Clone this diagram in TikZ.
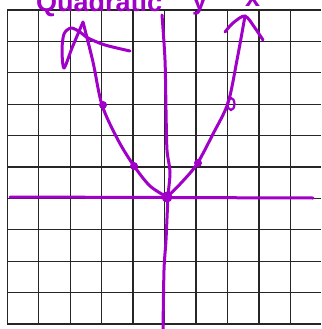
\documentclass[tikz,border=0pt]{standalone}
\usepackage{fontspec}
\setmainfont{Liberation Sans}
\definecolor{pen}{RGB}{160,0,200}
\begin{document}
\begin{tikzpicture}[x=1pt,y=-1pt,
  gridline/.style={line width=1.3pt,black!85},
  penline/.style={pen,line width=3pt,line cap=round,line join=round},
  pendot/.style={fill=pen,draw=none},
  pentext/.style={text=pen,font=\fontsize{27}{30}\selectfont\bfseries,inner sep=0pt,anchor=base west}]
\useasboundingbox (0,0) rectangle (321,329);
\fill[white] (0,0) rectangle (321,329);
% grid
\foreach \i in {0,...,9} \draw[gridline] ({7.3+31.46*\i},10) -- ({7.3+31.46*\i},324);
\foreach \j in {0,...,10} \draw[gridline] (7.3,{10+31.4*\j}) -- (321,{10+31.4*\j});
% title fragments (cut by the top edge)
\node[pentext] (title) at (36,12) {Quadratic};
\node[pentext] (yy) at (192,10) {y};
\node[pentext] (xx) at (245,7) {x};
% axes
\draw[penline] (10,197) -- (313,198);
\draw[penline] plot[smooth] coordinates {(162,15) (165,60) (166,110) (167,150) (170,172) (168,197) (166,240) (164,270) (163,330)};
% parabola
\draw[penline] plot[smooth] coordinates {(83,22) (93,62) (102,105) (118,140) (134,166) (150,186) (167,197)};
\draw[penline] plot[smooth] coordinates {(167,197) (182,182) (197,164) (213,134) (228,103) (237,60) (245,16)};
% arrowheads
\draw[penline] plot[smooth] coordinates {(83,22) (72,48) (64,68) (62,50) (64,34) (71,28) (80,32) (88,38) (105,45) (130,51)};
\draw[penline] plot[smooth] coordinates {(225,32) (233,23) (245,16) (255,28) (263,40)};
% points
\fill[pendot] (103,105) circle (4);
\fill[pendot] (134,166) circle (4);
\fill[pendot] (198,163) circle (4);
\fill[pendot] (167,197) circle (5.5);
\draw[pen,line width=2.2pt] (231,104) ellipse (3.5 and 6);
\end{tikzpicture}
\end{document}
